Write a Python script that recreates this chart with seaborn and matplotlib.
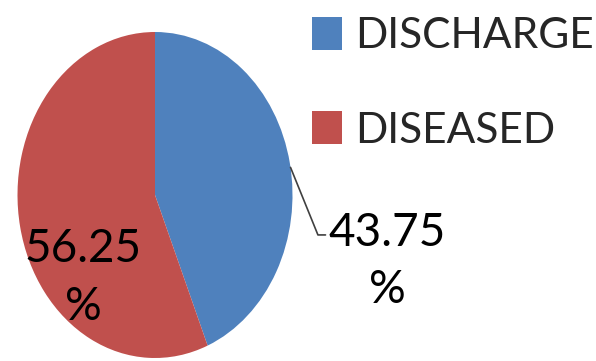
import numpy as np
import matplotlib
matplotlib.use("Agg")
import matplotlib.pyplot as plt
import seaborn as sns

# Outcome data
labels = ["DISCHARGE", "DISEASED"]
values = [43.75, 56.25]
colors = ["#4F81BD", "#C0504D"]

sns.set_theme(style="white")
plt.rcParams["font.family"] = ["Lato", "DejaVu Sans"]

fig = plt.figure(figsize=(5.96, 3.61), dpi=100)
# pie is stretched vertically in the original, so aspect is left free
ax = fig.add_axes([17.5 / 596, 3 / 361, 275 / 596, 326 / 361])

wedges, _ = ax.pie(values, colors=colors, startangle=90, counterclock=False,
                   wedgeprops=dict(linewidth=0))
ax.set_aspect("auto")
ax.set_xlim(-1, 1)
ax.set_ylim(-1, 1)
ax.axis("off")

# label for DISEASED sits inside the wedge
ax.text(-0.524, -0.51, f"{values[1]}\n%", ha="center", va="center",
        fontsize=33, linespacing=1.45, color="black")

# DISCHARGE label outside with a leader line
w = wedges[0]
ang = np.deg2rad((w.theta1 + w.theta2) / 2 - 1.5)
x0, y0 = np.cos(ang), np.sin(ang)
ax.plot([x0, 1.185, 1.24], [y0, -0.245, -0.245], color="#404040", lw=1.2,
        clip_on=False)
ax.text(1.687, -0.41, f"{values[0]}\n%", ha="center", va="center",
        fontsize=33, linespacing=1.45, color="black")

fig.legend(wedges, labels, loc="upper left", bbox_to_anchor=(312 / 596, 1 - 17 / 361),
           frameon=False, fontsize=30.5, handlelength=0.71, handleheight=0.83,
           handletextpad=0.3, labelspacing=1.32, borderpad=0, borderaxespad=0)

fig.savefig("out.png", dpi=100)
